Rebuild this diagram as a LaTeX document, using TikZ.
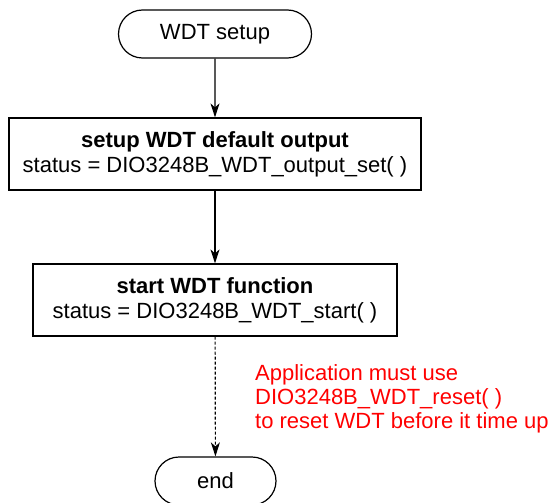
\documentclass[tikz,border=0pt]{standalone}
\usepackage{fontspec}
\setmainfont{Liberation Sans}
\usetikzlibrary{arrows.meta,shapes.misc}
\begin{document}
\begin{tikzpicture}[x=1pt,y=-1pt,
  every node/.style={font=\fontsize{22}{25}\selectfont},
  term/.style={draw,line width=1.2pt,rounded rectangle,minimum width=#1,minimum height=48pt,inner sep=0pt},
  proc/.style={draw,line width=1.2pt,align=center,inner sep=0pt,minimum height=72pt},
  flow/.style={line width=1.2pt,-{Stealth[length=14pt,width=9pt,inset=4pt]}},
  note/.style={text=red,align=left,anchor=north west,inner sep=0pt,font=\fontsize{22}{24}\selectfont}]
\useasboundingbox (0,0) rectangle (552,503);
\node[term=193pt] (start) at (215,34) {WDT setup};
\node[proc,minimum width=412pt] (setup) at (215,154) {\textbf{setup WDT default output}\\status = DIO3248B\_WDT\_output\_set( )};
\node[proc,minimum width=364pt] (run) at (215,300) {\textbf{start WDT function}\\status = DIO3248B\_WDT\_start( )};
\node[term=121pt] (end) at (215.5,481) {end};
\node[note] (msg) at (255,364) {Application must use\\DIO3248B\_WDT\_reset( )\\to reset WDT before it time up};
\draw[flow] (start) -- (setup);
\draw[flow] (setup) -- (run);
\draw[flow,dashed,dash pattern=on 3pt off 2pt] (run) -- (end);
\end{tikzpicture}
\end{document}
